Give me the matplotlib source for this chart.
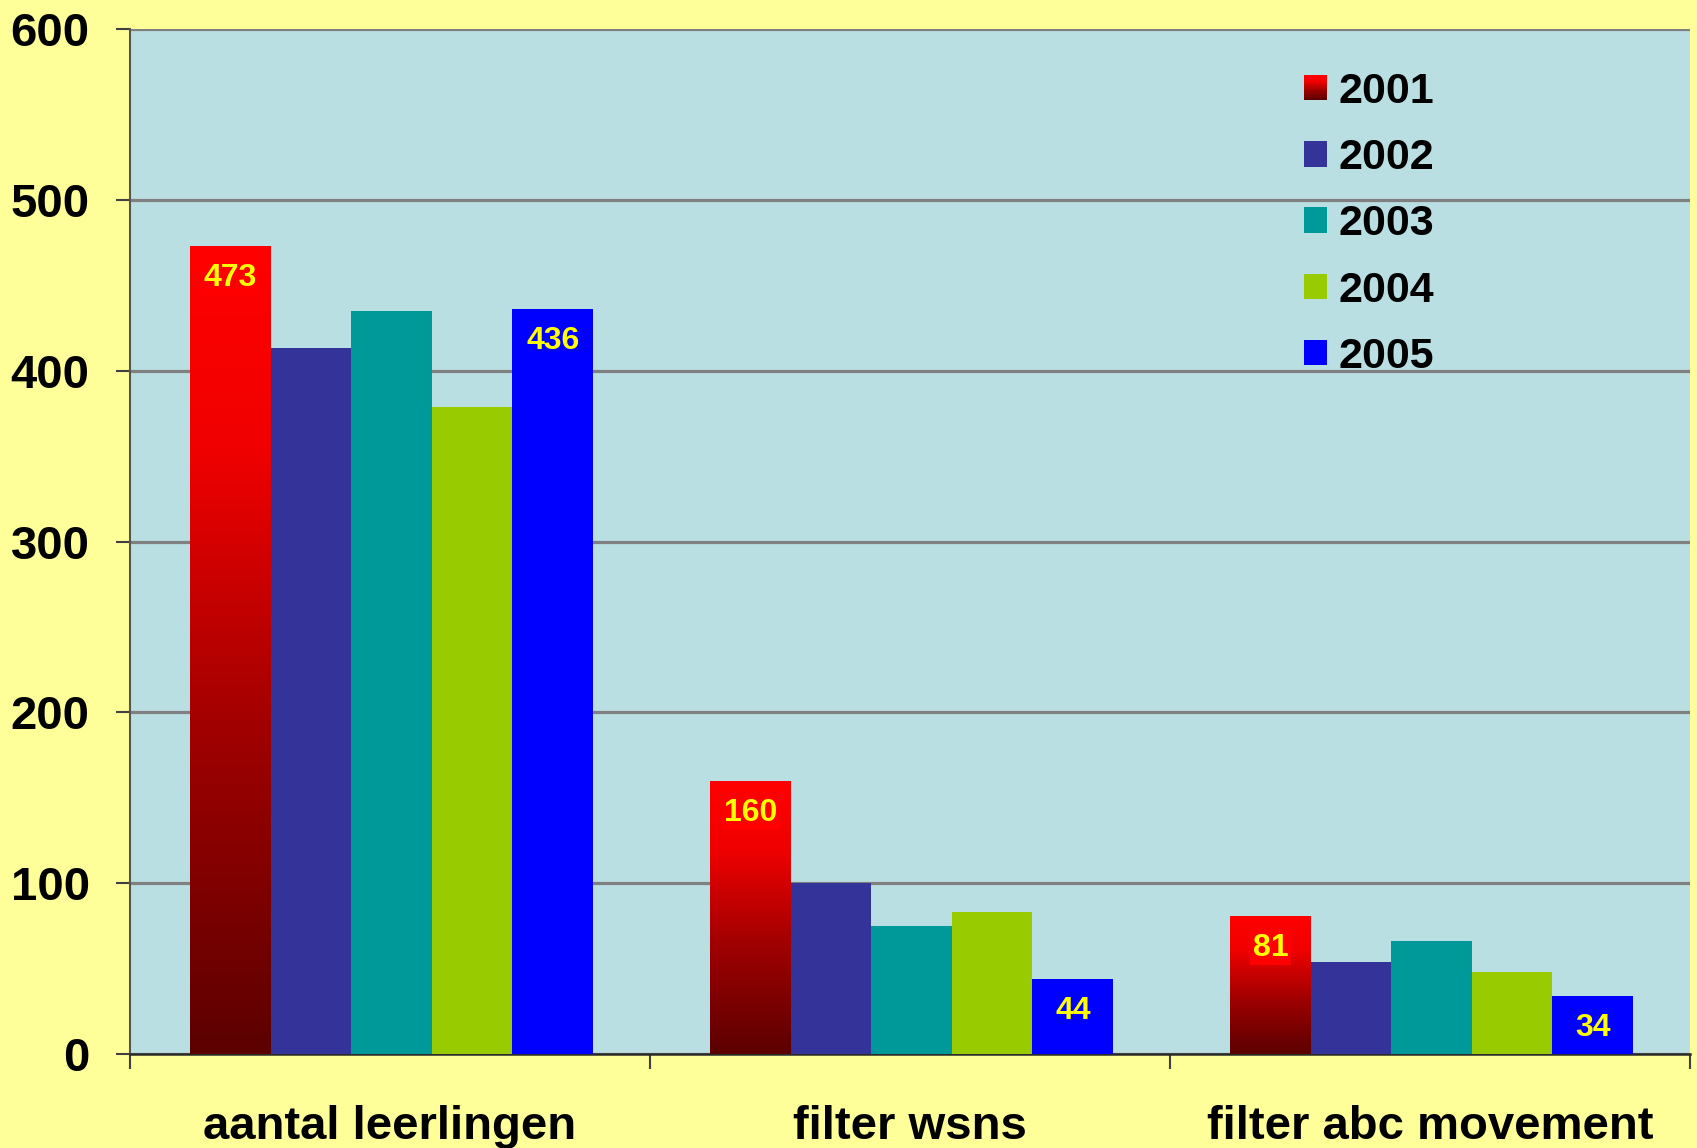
import numpy as np
import matplotlib.pyplot as plt
from matplotlib.colors import LinearSegmentedColormap
from matplotlib.patches import Rectangle
from matplotlib.legend_handler import HandlerBase

# gegevens
categories = ['aantal leerlingen', 'filter wsns', 'filter abc movement']
years = ['2001', '2002', '2003', '2004', '2005']
v2001 = [473, 160, 81]
v2002 = [413, 100, 54]
v2003 = [435, 75, 66]
v2004 = [379, 83, 48]
v2005 = [436, 44, 34]
series = [v2001, v2002, v2003, v2004, v2005]
colors = ['#FF0000', '#333399', '#009999', '#99CC00', '#0000FF']
labelled = [0, 4]  # alleen 2001 en 2005 krijgen een waarde

plt.rcParams['font.family'] = ['Liberation Sans', 'DejaVu Sans']
plt.rcParams['font.weight'] = 'bold'

# rood verloop: donker onderaan, fel rood bovenaan
red_cmap = LinearSegmentedColormap.from_list(
    'redgrad', [(0, '#5C0000'), (0.4, '#A00000'), (0.75, '#F00000'), (1, '#FF0000')])


class GradientHandler(HandlerBase):
    def create_artists(self, legend, orig_handle, xdescent, ydescent,
                       width, height, fontsize, trans):
        n = 20
        arts = []
        for i in range(n):
            r = Rectangle((-xdescent, -ydescent + i * height / n), width, height / n + 0.3,
                          facecolor=red_cmap(i / (n - 1)), edgecolor='none', transform=trans)
            arts.append(r)
        return arts


fig = plt.figure(figsize=(16.97, 11.48), dpi=100, facecolor='#FFFF99')
ax = fig.add_axes([0.0766, 0.0819, 0.9193, 0.8928])
ax.set_facecolor('#BADFE3')

x = np.arange(len(categories))
w = 0.155
handles = []
for i, vals in enumerate(series):
    pos = x + (i - 2) * w + 0.003
    if i == 0:
        bars = ax.bar(pos, vals, w, color='none', edgecolor='none', zorder=3)
        grad = np.linspace(0, 1, 256).reshape(-1, 1)
        for b in bars:
            im = ax.imshow(grad, cmap=red_cmap, origin='lower', aspect='auto',
                           extent=[b.get_x(), b.get_x() + b.get_width(), 0, b.get_height()],
                           zorder=3)
            im.set_clip_path(b)
        handles.append(bars)
    else:
        bars = ax.bar(pos, vals, w, color=colors[i], edgecolor='none', zorder=3)
        handles.append(bars)
    if i in labelled:
        for p, v in zip(pos, vals):
            kw = {}
            if i == 0:
                kw['bbox'] = dict(facecolor='#FF0000', edgecolor='none', pad=2)
            ax.annotate(str(v), (p, v), xytext=(0, -23), textcoords='offset points',
                        ha='center', va='center', color='#FFFF00', fontsize=23,
                        fontweight='bold', zorder=5, **kw)

ax.set_xlim(-0.5, 2.5)
ax.set_ylim(0, 600)
ax.set_yticks(range(0, 601, 100))
ax.yaxis.grid(True, color='#808080', linewidth=2.3)
ax.set_axisbelow(True)
ax.tick_params(axis='y', labelsize=34, length=10, width=1.5, color='#404040', pad=19)

ax.set_xticks(x)
ax.set_xticklabels(categories)
ax.tick_params(axis='x', which='major', length=0, labelsize=34, pad=37)
ax.set_xticks([-0.5, 0.5, 1.5, 2.5], minor=True)
ax.tick_params(axis='x', which='minor', length=11, width=1.5, color='#404040')

for lab in ax.get_xticklabels() + ax.get_yticklabels():
    lab.set_fontweight('bold')

ax.spines['top'].set_visible(False)
ax.spines['right'].set_visible(False)
ax.spines['left'].set_color('#555555')
ax.spines['left'].set_linewidth(1.5)
ax.spines['bottom'].set_color('#2A2A2A')
ax.spines['bottom'].set_linewidth(1.8)

leg = ax.legend(handles, years, loc='upper left', bbox_to_anchor=(0.728, 0.996),
                frameon=False, prop={'size': 31, 'weight': 'bold'},
                handlelength=0.53, handleheight=0.53, handletextpad=0.25,
                labelspacing=0.61, handler_map={handles[0]: GradientHandler()})

fig.savefig('out.png', dpi=100, facecolor=fig.get_facecolor())
